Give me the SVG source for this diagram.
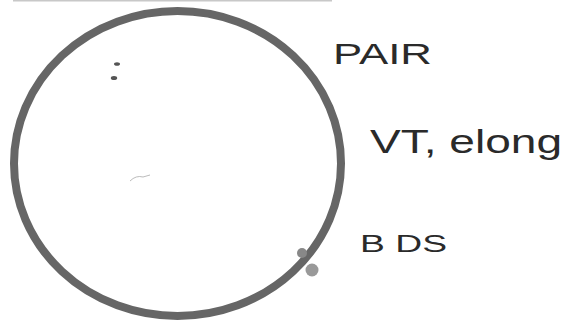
<svg xmlns="http://www.w3.org/2000/svg" width="568" height="322" viewBox="0 0 568 322">
<style>
.hand{font-family:"Liberation Sans","DejaVu Sans",sans-serif;fill:#2a2a2a;font-weight:normal}
</style>
<rect width="568" height="322" fill="#ffffff"/>
<line x1="13" y1="0.8" x2="332" y2="0.8" stroke="#c8c8c8" stroke-width="1.6"/>
<g id="circle">
<ellipse cx="177.5" cy="163.5" rx="163.5" ry="152.5" fill="none" stroke="#666666" stroke-width="8"/>
</g>
<g id="marks">
<ellipse cx="117" cy="64" rx="3" ry="1.8" fill="#555"/>
<ellipse cx="114" cy="78" rx="3.2" ry="2" fill="#555"/>
<path d="M130 181 Q136 175 143 177 L150 175" fill="none" stroke="#aaa" stroke-width="0.8"/>
<circle cx="302" cy="253" r="5" fill="#888"/>
<circle cx="312" cy="270" r="6.5" fill="#999"/>
</g>
<g id="labels">
<text class="hand" x="333" y="64" font-size="30" textLength="99" lengthAdjust="spacingAndGlyphs">PAIR</text>
<text class="hand" x="370" y="153" font-size="34" textLength="192" lengthAdjust="spacingAndGlyphs">VT, elong</text>
<text class="hand" x="360" y="252" font-size="23" textLength="87" lengthAdjust="spacingAndGlyphs">B DS</text>
</g>
</svg>
